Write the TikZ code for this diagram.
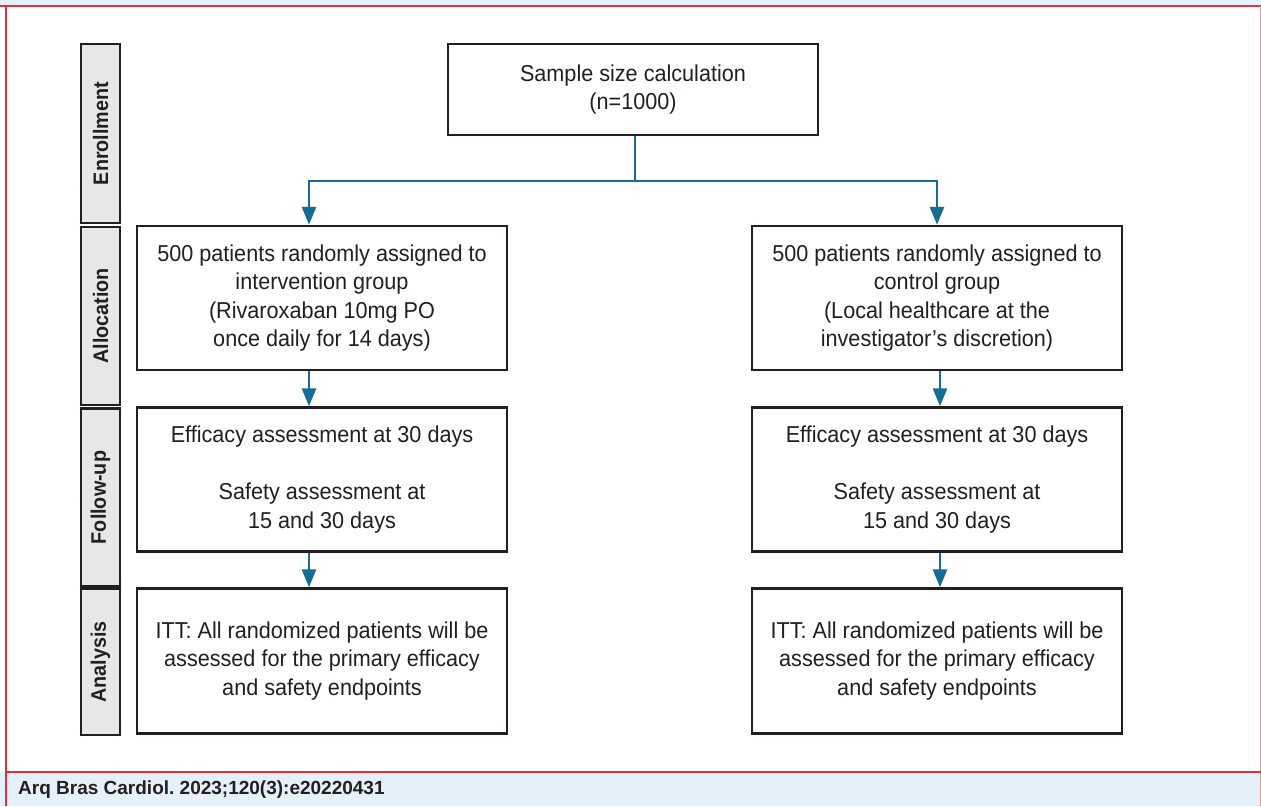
\documentclass[tikz,border=0pt]{standalone}
\usepackage{fontspec}
\setmainfont[FakeStretch=0.94]{Liberation Sans}
\newfontfamily\capfont{Liberation Sans}
\usetikzlibrary{arrows.meta}
\definecolor{arrowblue}{RGB}{22,108,148}
\definecolor{framered}{RGB}{226,48,56}
\definecolor{bandblue}{RGB}{230,240,250}
\definecolor{boxgray}{RGB}{230,231,232}
\definecolor{ink}{RGB}{35,31,32}
\frenchspacing
\begin{document}
\begin{tikzpicture}[x=1pt,y=-1pt,
  mainbox/.style={draw=ink, line width=2.4pt, fill=white, minimum width=370pt, align=center, inner sep=0pt, font=\fontsize{23}{28.5}\selectfont, text=ink},
  sidebox/.style={draw=ink, line width=2.4pt, fill=boxgray, minimum width=39pt, inner sep=0pt},
  sidelabel/.style={rotate=90, font=\fontsize{21}{22}\selectfont\bfseries, text=ink},
  conn/.style={draw=arrowblue, line width=2.8pt},
  arr/.style={conn, -{Triangle[length=18pt,width=14pt]}}]
\useasboundingbox (0,0) rectangle (1261,806);
% frame
\fill[bandblue] (0,0) rectangle (1261,6);
\fill[bandblue] (0,772) rectangle (1261,806);
\draw[framered, line width=1.4pt] (0,6) -- (1261,6);
\draw[framered, line width=1.4pt] (6,6) -- (6,806);
\draw[framered!50, line width=1pt] (1260,6) -- (1260,806);
\draw[framered, line width=1.4pt] (6,772) -- (1261,772);
\node[anchor=west, inner sep=0pt, font=\capfont\fontsize{19}{20}\selectfont\bfseries, text=ink] (cite) at (18,790) {Arq Bras Cardiol. 2023;120(3):e20220431};
% side boxes
\node[sidebox, minimum height=179pt] (s1) at (100.5,133.5) {};
\node[sidelabel] at (s1) {Enrollment};
\node[sidebox, minimum height=178pt] (s2) at (100.5,316) {};
\node[sidelabel] at (s2) {Allocation};
\node[sidebox, minimum height=178pt] (s3) at (100.5,497.5) {};
\node[sidelabel] at (s3) {Follow-up};
\node[sidebox, minimum height=146pt] (s4) at (100.5,662) {};
\node[sidelabel] at (s4) {Analysis};
% main boxes
\node[mainbox, minimum height=91pt] (top) at (633,89.5) {Sample size calculation\\(n=1000)};
\node[mainbox, minimum height=144pt] (la) at (322,298) {500 patients randomly assigned to\\intervention group\\(Rivaroxaban 10mg PO\\once daily for 14 days)};
\node[mainbox, minimum height=144pt] (ra) at (937,298) {500 patients randomly assigned to\\control group\\(Local healthcare at the\\investigator’s discretion)};
\node[mainbox, minimum height=144pt] (lf) at (322,479.5) {Efficacy assessment at 30 days\\[28.5pt]Safety assessment at\\15 and 30 days};
\node[mainbox, minimum height=144pt] (rf) at (937,479.5) {Efficacy assessment at 30 days\\[28.5pt]Safety assessment at\\15 and 30 days};
\node[mainbox, minimum height=145pt] (ln) at (322,661) {ITT: All randomized patients will be\\assessed for the primary efficacy\\and safety endpoints};
\node[mainbox, minimum height=145pt] (rn) at (937,661) {ITT: All randomized patients will be\\assessed for the primary efficacy\\and safety endpoints};
% connectors
\coordinate (split) at (635,181);
\draw[conn] (top.south -| split) -- (split);
\draw[arr] (split) -| ([xshift=-13pt]la.north);
\draw[arr] (split) -| (ra.north);
\draw[arr] ([xshift=-13pt]la.south) -- ([xshift=-13pt]lf.north);
\draw[arr] ([xshift=-13pt]lf.south) -- ([xshift=-13pt]ln.north);
\draw[arr] ([xshift=3pt]ra.south) -- ([xshift=3pt]rf.north);
\draw[arr] ([xshift=3pt]rf.south) -- ([xshift=3pt]rn.north);
\end{tikzpicture}
\end{document}
